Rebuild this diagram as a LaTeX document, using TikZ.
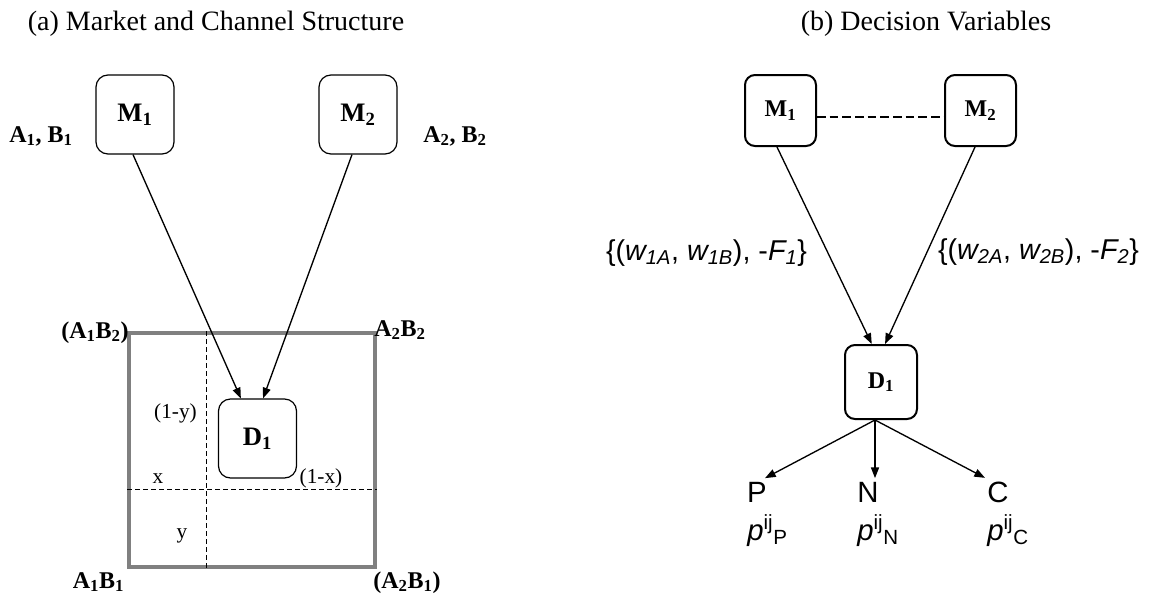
\documentclass[tikz,border=0pt]{standalone}
\usepackage{fontspec}
\setmainfont{Liberation Serif}
\newfontfamily\arial{Liberation Sans}
\usetikzlibrary{arrows.meta,calc}
\definecolor{sqgray}{RGB}{128,128,128}
\begin{document}
\begin{tikzpicture}[x=0.75pt,y=-0.75pt,
  boxA/.style={draw, rounded corners=9pt, minimum width=58.5pt, minimum height=59.25pt, line width=0.9pt, inner sep=0pt, font=\bfseries\fontsize{20}{22}\selectfont},
  boxB/.style={draw, rounded corners=7.5pt, minimum width=53.25pt, minimum height=53.25pt, line width=1.5pt, inner sep=0pt, font=\bfseries\fontsize{18}{20}\selectfont},
  arr/.style={line width=1pt, -{Triangle[length=8pt,width=6pt]}},
  ttl/.style={font=\fontsize{21}{24}\selectfont, inner sep=0pt},
  corner/.style={font=\bfseries\fontsize{18}{20}\selectfont, inner sep=0pt},
  small/.style={font=\fontsize{16}{18}\selectfont, inner sep=0pt},
  elab/.style={font=\arial\fontsize{21.5}{24}\selectfont, inner sep=0pt},
  plab/.style={font=\arial\fontsize{22}{24}\selectfont, inner sep=0pt},
  thindash/.style={line width=0.75pt, dash pattern=on 3.5pt off 2.5pt},
  thickdash/.style={line width=1.5pt, dash pattern=on 6.5pt off 3pt}]
\useasboundingbox (0,0) rectangle (1152,603);
% ---------- (a) ----------
\node[ttl, anchor=base] (ta) at (216,30) {(a) Market and Channel Structure};
\node[boxA] (M1a) at (135,114.5) {M\textsubscript{1}};
\node[boxA] (M2a) at (358,114.5) {M\textsubscript{2}};
\node[corner, anchor=base] (ab1) at (41,142) {A\textsubscript{1}, B\textsubscript{1}};
\node[corner, anchor=base] (ab2) at (455,142) {A\textsubscript{2}, B\textsubscript{2}};
\node[draw=sqgray, line width=3pt, minimum width=184.5pt, minimum height=175.5pt, inner sep=0pt] (sq) at (252,450) {};
\draw[thindash] ($(sq.north west)!0.317!(sq.north east)$) -- ($(sq.south west)!0.317!(sq.south east)$);
\draw[thindash] ($(sq.north west)!0.667!(sq.south west)$) -- ($(sq.north east)!0.667!(sq.south east)$);
\node[boxA, fill=white] (D1a) at (257.5,438.5) {D\textsubscript{1}};
\draw[arr] ($(M1a.south)+(-2,0)$) -- ($(D1a.north west)!0.29!(D1a.north east)$);
\draw[arr] ($(M2a.south)+(-6,0)$) -- ($(D1a.north west)!0.57!(D1a.north east)$);
\node[corner, anchor=base] (c12) at (95,338) {(A\textsubscript{1}B\textsubscript{2})};
\node[corner, anchor=base] (c22) at (400,336) {A\textsubscript{2}B\textsubscript{2}};
\node[corner, anchor=base] (c11) at (98.5,588) {A\textsubscript{1}B\textsubscript{1}};
\node[corner, anchor=base] (c21) at (407,588) {(A\textsubscript{2}B\textsubscript{1})};
\node[small] (ly) at (175.5,413) {(1-y)};
\node[small, anchor=base] (lx) at (158,483) {x};
\node[small] (lmx) at (321,478.5) {(1-x)};
\node[small, anchor=base] (lyy) at (182,538) {y};
% ---------- (b) ----------
\node[ttl, anchor=base] (tb) at (926,30) {(b) Decision Variables};
\node[boxB] (M1b) at (780.5,110.5) {M\textsubscript{1}};
\node[boxB] (M2b) at (980.5,110.5) {M\textsubscript{2}};
\draw[thickdash] ($(M1b.east)+(0,6)$) -- ($(M2b.west)+(0,6)$);
\node[boxB, minimum width=54pt, minimum height=55.5pt] (D1b) at (881,382) {D\textsubscript{1}};
\draw[arr] ($(M1b.south)+(-3.5,0)$) -- ($(D1b.north west)!0.375!(D1b.north east)$);
\draw[arr] ($(M2b.south)+(-5.5,0)$) -- ($(D1b.north west)!0.555!(D1b.north east)$);
\node[elab] (e1) at (706.5,253) {\{(\textit{w\textsubscript{1A}}, \textit{w\textsubscript{1B}}), -\textit{F\textsubscript{1}}\}};
\node[elab] (e2) at (1038.5,252) {\{(\textit{w\textsubscript{2A}}, \textit{w\textsubscript{2B}}), -\textit{F\textsubscript{2}}\}};
\node[plab] (P) at (757,492.5) {P};
\node[plab] (N) at (868,492.5) {N};
\node[plab] (C) at (998,492.5) {C};
\coordinate (ds) at ($(D1b.south)+(-6,0)$);
\draw[arr] (ds) -- ($(P.north)+(8,-4)$);
\draw[arr] (ds) -- ($(N.north)+(7,-4)$);
\draw[arr] (ds) -- ($(C.north)+(-13,-4)$);
\node[plab, anchor=base west] (pP) at (747,540) {\textit{p}\textsuperscript{ij}\textsubscript{P}};
\node[plab, anchor=base west] (pN) at (857,540) {\textit{p}\textsuperscript{ij}\textsubscript{N}};
\node[plab, anchor=base west] (pC) at (987,540) {\textit{p}\textsuperscript{ij}\textsubscript{C}};
\end{tikzpicture}
\end{document}
